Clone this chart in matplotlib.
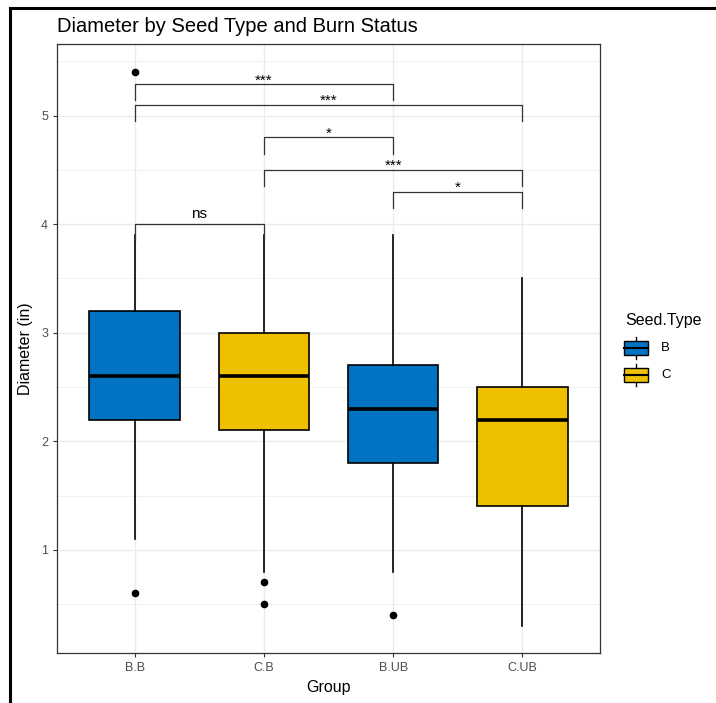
import matplotlib
matplotlib.use("Agg")
import matplotlib.pyplot as plt
from matplotlib.lines import Line2D
from matplotlib.patches import Rectangle

plt.rcParams['font.family'] = ['Liberation Sans', 'DejaVu Sans']

# data
groups = ["B.B", "C.B", "B.UB", "C.UB"]
seed_type = ["B", "C", "B", "C"]
q1 = [2.2, 2.1, 1.8, 1.4]
med = [2.6, 2.6, 2.3, 2.2]
q3 = [3.2, 3.0, 2.7, 2.5]
whislo = [1.1, 0.8, 0.8, 0.3]
whishi = [3.9, 3.9, 3.9, 3.5]
outliers = [[5.4, 0.6], [0.7, 0.5], [0.4], []]

# pairwise comparisons (group index a, group index b, bracket height, label)
comp_a = [1, 1, 2, 2, 3, 1]
comp_b = [3, 4, 3, 4, 4, 2]
comp_y = [5.29, 5.10, 4.80, 4.50, 4.30, 4.00]
comp_lab = ["***", "***", "*", "***", "*", "ns"]

colors = {"B": "#0073C2", "C": "#EFC000"}

fig = plt.figure(figsize=(7.16, 7.03), dpi=100)
ax = fig.add_axes([57/716, 1 - 653/703, (600 - 57)/716, (653 - 44)/703])

stats = []
for i, g in enumerate(groups):
    stats.append(dict(label=g, q1=q1[i], med=med[i], q3=q3[i],
                      whislo=whislo[i], whishi=whishi[i], fliers=outliers[i]))

bp = ax.bxp(stats, positions=range(1, 5), widths=0.7, patch_artist=True,
            showcaps=False, zorder=3,
            boxprops=dict(edgecolor="black", linewidth=1.2),
            medianprops=dict(color="black", linewidth=2.6),
            whiskerprops=dict(color="black", linewidth=1.2),
            flierprops=dict(marker="o", markerfacecolor="black",
                            markeredgecolor="black", markersize=4.5))
for patch, st in zip(bp["boxes"], seed_type):
    patch.set_facecolor(colors[st])

tip = 0.15
for a, b, y, lab in zip(comp_a, comp_b, comp_y, comp_lab):
    ax.plot([a, a, b, b], [y - tip, y, y, y - tip], color="#333333",
            linewidth=0.9, zorder=4)
    if lab == "ns":
        ax.text((a + b) / 2, y + 0.03, lab, ha="center", va="bottom",
                fontsize=11, color="black")
    else:
        ax.text((a + b) / 2, y - 0.03, lab, ha="center", va="bottom",
                fontsize=11, color="black")

ax.set_xlim(0.4, 4.6)
ax.set_ylim(0.05, 5.66)
ax.set_yticks([1, 2, 3, 4, 5])
ax.set_yticks([0.5, 1.5, 2.5, 3.5, 4.5, 5.5], minor=True)
ax.set_xticks(range(1, 5))
ax.set_xticklabels(groups)
ax.tick_params(axis="both", which="major", length=3, width=0.8,
               color="#333333", labelcolor="#4D4D4D", labelsize=9)
ax.tick_params(axis="y", which="minor", length=0)
ax.grid(True, which="major", color="#EBEBEB", linewidth=1.0, zorder=0)
ax.grid(True, which="minor", axis="y", color="#EBEBEB", linewidth=0.5, zorder=0)
ax.set_axisbelow(True)
for s in ax.spines.values():
    s.set_color("#333333")
    s.set_linewidth(0.9)

ax.set_xlabel("Group", fontsize=11.5, labelpad=4)
ax.set_ylabel("Diameter (in)", fontsize=11.5, labelpad=6)
fig.text(57/716, 1 - 26/703, "Diameter by Seed Type and Burn Status",
         fontsize=14.5, va="center", ha="left")

# legend
fig.text(625/716, 1 - 320/703, "Seed.Type", fontsize=11.5, va="center", ha="left")
lg = fig.add_axes([620/716, 1 - 390/703, 60/716, 58/703])
lg.set_xlim(620, 680)
lg.set_ylim(390, 332)
lg.axis("off")
for yc, st in zip([348, 375], ["B", "C"]):
    lg.plot([636, 636], [yc - 11, yc + 11], color="black", linewidth=1.0)
    lg.add_patch(Rectangle((624, yc - 7), 24, 14, facecolor=colors[st],
                           edgecolor="black", linewidth=1.0, zorder=3))
    lg.plot([624, 648], [yc, yc], color="black", linewidth=1.5, zorder=4)
    lg.text(661, yc, st, fontsize=9.5, va="center", ha="left", color="black")

# frame edges visible in the screenshot
fig.add_artist(Line2D([9.5/716, 9.5/716], [0, 1 - 8/703], color="black",
                      linewidth=2.2, transform=fig.transFigure))
fig.add_artist(Line2D([9.5/716, 1], [1 - 8/703, 1 - 8/703], color="black",
                      linewidth=2.2, transform=fig.transFigure))

fig.savefig("out.png", dpi=100)
